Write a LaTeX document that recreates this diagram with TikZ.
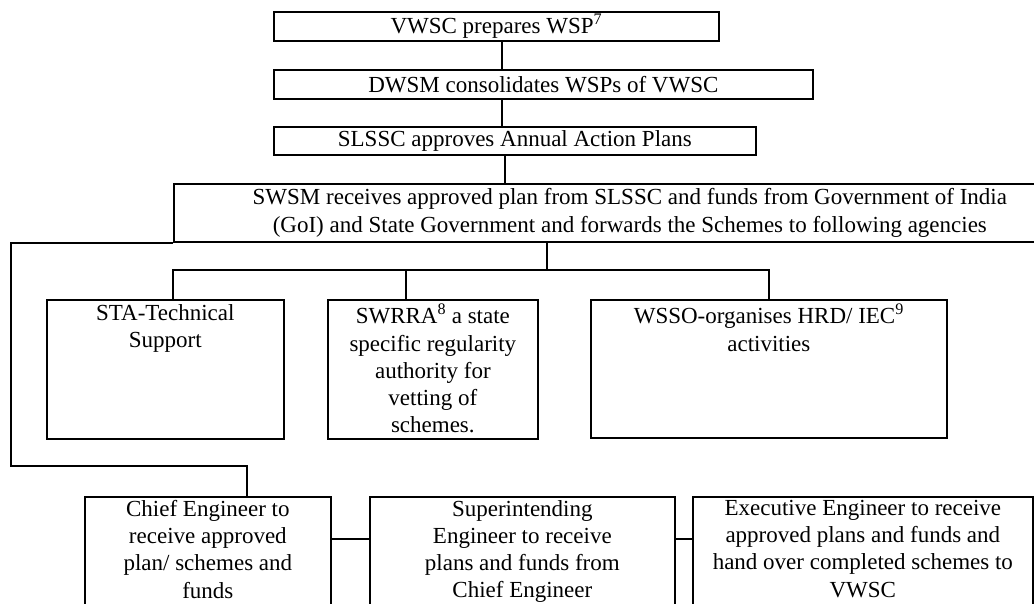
\documentclass[tikz,border=0pt]{standalone}
\usepackage{fontspec}
\setmainfont{Liberation Serif}
\usetikzlibrary{positioning, calc}

\begin{document}
\begin{tikzpicture}[x=1pt, y=-1pt,
    box/.style={draw, line width=1.7pt, inner sep=0pt, anchor=north west,
                align=center, font=\fontsize{23}{27.2}\selectfont},
    txt/.style={anchor=north, align=center, inner sep=0pt,
                font=\fontsize{23}{27.2}\selectfont},
    lnk/.style={line width=1.7pt},
  ]
  \useasboundingbox (0,0) rectangle (1034,603);

  \node[box, minimum width=445, minimum height=29] (vwsc) at (273,11)
        {VWSC prepares WSP\textsuperscript{7}};
  \node[box, minimum width=539, minimum height=29] (dwsm) at (273,69)
        {DWSM consolidates WSPs of VWSC};
  \node[box, minimum width=482, minimum height=28] (slssc) at (273,126)
        {SLSSC approves Annual Action Plans};
  \node[box, minimum width=912, minimum height=58] (swsm) at (173,183)
        {SWSM receives approved plan from SLSSC and funds from Government of India\\
         (GoI) and State Government and forwards the Schemes to following agencies};

  \node[box, minimum width=237, minimum height=139] (sta) at (46,299) {};
  \node[box, minimum width=210, minimum height=139] (swrra) at (327,299) {};
  \node[box, minimum width=356, minimum height=138] (wsso) at (590,299) {};
  \node[txt, below=5pt of sta.north] (sta-t) {STA-Technical\\Support};
  \node[txt, below=5pt of swrra.north] (swrra-t)
        {SWRRA\textsuperscript{8} a state\\specific regularity\\authority for\\vetting of\\schemes.};
  \node[txt, below=5pt of wsso.north] (wsso-t)
        {WSSO-organises HRD/ IEC\textsuperscript{9}\\activities};

  \node[box, minimum width=246, minimum height=124] (ce) at (84,496) {};
  \node[box, minimum width=305, minimum height=124] (se) at (369,496) {};
  \node[box, minimum width=340, minimum height=124] (ee) at (692,496) {};
  \node[txt, below=4pt of ce.north] (ce-t)
        {Chief Engineer to\\receive approved\\plan/ schemes and\\funds};
  \node[txt, below=4pt of se.north] (se-t)
        {Superintending\\Engineer to receive\\plans and funds from\\Chief Engineer};
  \node[txt, below=4pt of ee.north] (ee-t)
        {Executive Engineer to receive\\approved plans and funds and\\hand over completed schemes to\\VWSC};

  \coordinate (spine) at (502,0);
  \coordinate (drop) at (505,0);
  \coordinate (bus) at (547,270);
  \coordinate (stadrop) at (173,0);
  \coordinate (swrradrop) at (406,0);
  \coordinate (lft) at (11,466);
  \coordinate (cedrop) at (247,0);
  \coordinate (row) at (0,539);

  \draw[lnk] (vwsc.south -| spine) -- (dwsm.north -| spine);
  \draw[lnk] (dwsm.south -| spine) -- (slssc.north -| spine);
  \draw[lnk] (slssc.south -| drop) -- (swsm.north -| drop);
  \draw[lnk] (swsm.south -| bus) -- (bus);
  \draw[lnk] (sta.north -| stadrop) |- (wsso.north |- bus) -- (wsso.north);
  \draw[lnk] (swrra.north -| swrradrop) -- (bus -| swrradrop);
  \draw[lnk] (swsm.south west) -| (lft) -| (ce.north -| cedrop);
  \draw[lnk] (ce.east |- row) -- (se.west |- row);
  \draw[lnk] (se.east |- row) -- (ee.west |- row);
\end{tikzpicture}
\end{document}
